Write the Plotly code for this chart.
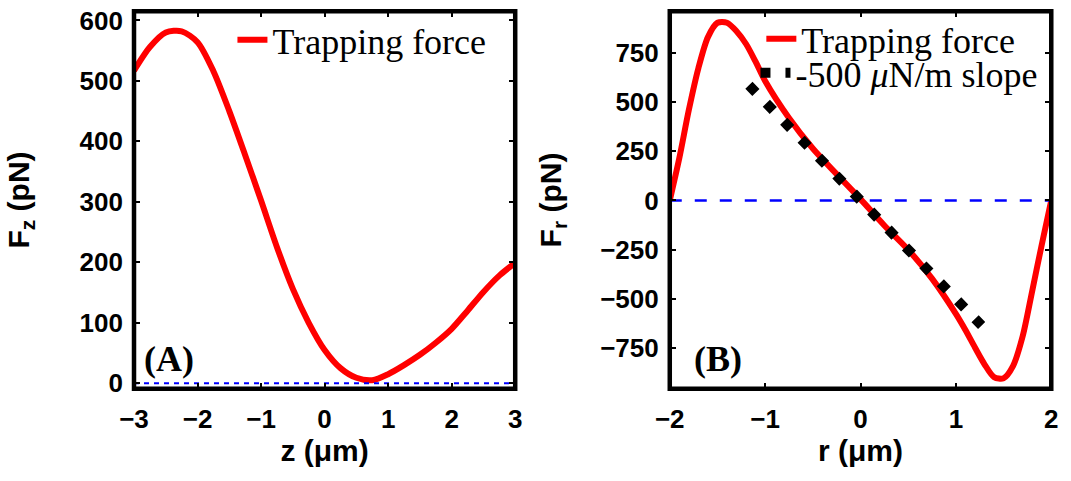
import plotly.graph_objects as go

# ---- Panel A: axial trapping force F_z(z) ----
z_um = [-3.0, -2.75, -2.5, -2.25, -2.0, -1.75, -1.5, -1.25, -1.0, -0.75, -0.5,
        -0.25, 0.0, 0.25, 0.5, 0.75, 1.0, 1.25, 1.5, 1.75, 2.0, 2.25, 2.5, 2.75, 3.0]
fz_pN = [517, 556, 580, 582, 564, 516, 450, 377, 302, 225, 156,
         100, 55, 25, 9, 5, 15, 30, 47, 67, 90, 120, 151, 178, 199]

# ---- Panel B: radial trapping force F_r(r) ----
r_um = [-2.0, -1.9, -1.8, -1.7, -1.6, -1.5, -1.4, -1.3, -1.2, -1.1, -1.0,
        -0.75, -0.5, -0.25, 0.0, 0.25, 0.5, 0.75, 1.0, 1.1, 1.2, 1.3, 1.4,
        1.5, 1.6, 1.7, 1.8, 1.9, 2.0]
fr_pN = [0, 215, 460, 672, 830, 903, 903, 860, 795, 705, 607,
         419, 264, 134, 7, -127, -250, -397, -576, -658, -747, -832, -897,
         -903, -840, -690, -460, -225, 0]

# linear fit shown as a dotted line: -500 uN/m == -500 pN/um
slope_pN_per_um = -500
slope_r_um = [-1.17, 1.27]
slope_fr_pN = [slope_pN_per_um * r for r in slope_r_um]

# axis ticks
z_ticks = [-3, -2, -1, 0, 1, 2, 3]
fz_ticks = [0, 100, 200, 300, 400, 500, 600]
r_ticks = [-2, -1, 0, 1, 2]
fr_ticks = [-750, -500, -250, 0, 250, 500, 750]

W, H = 1071, 481
RED = '#ff0000'
BLUE = '#0000ff'
TICK_FONT = dict(family='Liberation Sans', size=26, color='black', weight='bold')
TITLE_FONT = dict(family='Liberation Sans', size=30, color='black', weight='bold')
LEG_FONT = dict(family='Liberation Serif', size=36, color='black')

fig = go.Figure()

# panel A
fig.add_trace(go.Scatter(x=z_um, y=fz_pN, mode='lines', name='Trapping force',
                         line=dict(color=RED, width=6, shape='spline', smoothing=0.8),
                         xaxis='x', yaxis='y', legend='legend'))
fig.add_trace(go.Scatter(x=[z_um[0], z_um[-1]], y=[0, 0], mode='lines',
                         line=dict(color=BLUE, width=2, dash='5px,5px'),
                         xaxis='x', yaxis='y', showlegend=False))

# panel B
fig.add_trace(go.Scatter(x=r_um, y=fr_pN, mode='lines', name='Trapping force',
                         line=dict(color=RED, width=6, shape='spline', smoothing=0.8),
                         xaxis='x2', yaxis='y2', legend='legend2'))
fig.add_trace(go.Scatter(x=[r_um[0], r_um[-1]], y=[0, 0], mode='lines',
                         line=dict(color=BLUE, width=2.5, dash='12px,13px'),
                         xaxis='x2', yaxis='y2', showlegend=False))
fig.add_trace(go.Scatter(x=slope_r_um, y=slope_fr_pN, mode='lines',
                         name='-500 <i>μ</i>N/m slope',
                         line=dict(color='black', width=10, dash='10px,15px'),
                         xaxis='x2', yaxis='y2', legend='legend3'))

ydom = [1 - 395 / H, 1 - 5.5 / H]
xdomA = [121.5 / W, 510.7 / W]
xdomB = [668.5 / W, 1058 / W]

axis_common = dict(ticks='inside', ticklen=6, tickwidth=2, tickcolor='black',
                   mirror='ticks', showline=False, showgrid=False, zeroline=False,
                   tickfont=TICK_FONT, title_font=TITLE_FONT, fixedrange=True,
                   ticklabeloverflow='allow')

fig.update_layout(
    width=W, height=H,
    margin=dict(l=0, r=0, t=0, b=0),
    paper_bgcolor='white', plot_bgcolor='white',
    xaxis=dict(domain=xdomA, range=[-3, 3], tickvals=z_ticks, anchor='y',
               ticklabelstandoff=12,
               title=dict(text='z (μm)', standoff=6), **axis_common),
    yaxis=dict(domain=ydom, range=[-9, 615], tickvals=fz_ticks, anchor='x',
               ticklabelstandoff=10,
               title=dict(text='F<sub>z</sub> (pN)', standoff=41), **axis_common),
    xaxis2=dict(domain=xdomB, range=[-2, 2], tickvals=r_ticks, anchor='y2',
                ticklabelstandoff=12,
                title=dict(text='r (μm)', standoff=6), **axis_common),
    yaxis2=dict(domain=ydom, range=[-956, 961], tickvals=fr_ticks, anchor='x2',
                ticklabelstandoff=10,
                title=dict(text='F<sub>r</sub> (pN)', standoff=29), **axis_common),
    legend=dict(x=222 / W, y=1 - 4 / H, xanchor='left', yanchor='top',
                bgcolor='rgba(0,0,0,0)', borderwidth=0, font=LEG_FONT),
    legend2=dict(x=762 / W, y=1 - 3 / H, xanchor='left', yanchor='top',
                 bgcolor='rgba(0,0,0,0)', borderwidth=0, font=LEG_FONT),
    legend3=dict(x=756 / W, y=1 - 38 / H, xanchor='left', yanchor='top',
                 bgcolor='rgba(0,0,0,0)', borderwidth=0, font=LEG_FONT),
    shapes=[
        dict(type='rect', xref='x domain', yref='y domain', x0=0, x1=1, y0=0, y1=1,
             line=dict(color='black', width=4.5), layer='above'),
        dict(type='rect', xref='x2 domain', yref='y2 domain', x0=0, x1=1, y0=0, y1=1,
             line=dict(color='black', width=4.5), layer='above'),
    ],
    annotations=[
        dict(text='<b>(A)</b>', xref='paper', yref='paper', x=157 / W, y=1 - 364 / H,
             xanchor='center', yanchor='middle', showarrow=False,
             font=dict(family='Liberation Serif', size=36, color='black')),
        dict(text='<b>(B)</b>', xref='paper', yref='paper', x=718 / W, y=1 - 364 / H,
             xanchor='center', yanchor='middle', showarrow=False,
             font=dict(family='Liberation Serif', size=36, color='black')),
    ],
)

fig.write_html('out.html')
